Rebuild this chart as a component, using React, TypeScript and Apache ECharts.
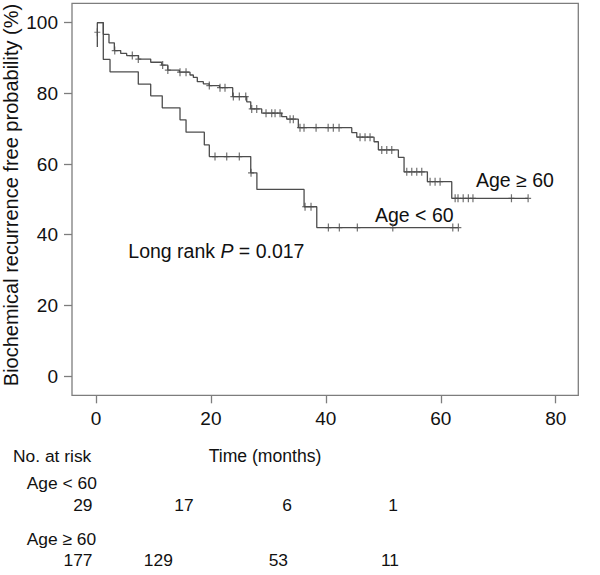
import React, { useEffect, useRef } from "react";
import * as echarts from "echarts";

// Kaplan–Meier step points [time (months), survival (%)]
const ageOldSteps: number[][] = [
  [0.23, 93.1], [0.23, 100], [1.27, 96.7], [2.26, 94.3], [3.19, 92.1], [4.3, 91.3],
  [5.34, 90.7], [7.4, 89.7], [9.52, 88.8], [11.44, 88.0], [12.5, 86.6], [14.5, 86.0],
  [16.36, 85.2], [16.94, 84.5], [17.63, 83.3], [18.68, 82.7], [19.7, 82.2], [21.5, 81.6],
  [23.79, 79.1], [26.23, 77.6], [26.93, 75.6], [28.84, 74.4], [32.32, 73.4], [33.19, 72.7],
  [35.21, 70.3], [44.51, 68.9], [45.38, 67.6], [48.39, 66.3], [49.14, 64.0], [52.62, 61.9],
  [53.61, 57.8], [57.67, 55.0], [61.91, 50.3], [75.2, 50.3],
];
const ageOldCensored: number[][] = [
  [0.23, 97.3], [3.26, 92.1], [6.32, 90.7], [7.36, 89.7], [11.6, 88.0], [12.5, 86.6],
  [14.62, 86.0], [15.67, 86.0], [19.72, 82.2], [21.58, 81.6], [22.45, 81.6], [23.9, 79.1],
  [24.94, 79.1], [26.06, 79.1], [27.1, 75.6], [27.97, 75.6], [29.59, 74.4], [30.58, 74.4],
  [31.16, 74.4], [32.03, 74.4], [33.77, 72.7], [34.34, 72.7], [35.5, 70.3], [36.2, 70.3],
  [38.3, 70.3], [40.4, 70.3], [41.3, 70.3], [42.3, 70.3], [45.95, 67.6], [46.82, 67.6],
  [47.69, 67.6], [49.73, 64.0], [50.6, 64.0], [51.47, 64.0], [54.08, 57.8], [54.95, 57.8],
  [55.82, 57.8], [56.69, 57.8], [58.14, 55.0], [59.01, 55.0], [59.88, 55.0], [62.5, 50.3],
  [63.0, 50.3], [63.9, 50.3], [64.8, 50.3], [65.6, 50.3], [72.3, 50.3], [75.2, 50.3],
];
const ageYoungSteps: number[][] = [
  [0.23, 100], [1.27, 89.6], [2.44, 86.1], [7.36, 82.6], [9.52, 79.3], [11.53, 75.9],
  [14.62, 72.5], [15.67, 69.0], [18.85, 65.4], [19.72, 62.1], [26.93, 57.5], [28.0, 52.8],
  [36.21, 47.9], [38.42, 42.0], [63.06, 42.0],
];
const ageYoungCensored: number[][] = [
  [20.71, 62.1], [22.75, 62.1], [24.94, 62.1], [26.98, 57.5], [36.38, 47.9], [37.42, 47.9],
  [40.44, 42.0], [42.35, 42.0], [45.48, 42.0], [51.65, 42.0], [62.09, 42.0], [63.06, 42.0],
];

// Number at risk table
const riskGroups = ["Age < 60", "Age \u2265 60"];
const riskYoung = ["29", "17", "6", "1"];
const riskOld = ["177", "129", "53", "11"];

const FONT = "'Liberation Sans', Arial, Helvetica, sans-serif";
const LINE = "#4d4d4d";
const FRAME = "#7d7d7d";
const PLUS =
  "path://M2.4,0 L3.6,0 L3.6,3.4 L6,3.4 L6,4.6 L3.6,4.6 L3.6,8 L2.4,8 L2.4,4.6 L0,4.6 L0,3.4 L2.4,3.4 Z";

export default function App() {
  const ref = useRef<HTMLDivElement>(null);

  useEffect(() => {
    if (!ref.current) return;
    const chart = echarts.init(ref.current, undefined, { renderer: "svg" });

    const txt = (x: number, y: number, text: string, size: number, align: string = "left") => ({
      type: "text",
      x,
      y,
      style: {
        text,
        fill: "#111",
        fontSize: size,
        fontFamily: FONT,
        align,
        verticalAlign: "middle",
      },
    });

    const rowCenters1 = [92.5, 184, 287, 393];
    const rowAligns1 = ["right", "center", "center", "center"];
    const rowCenters2 = [92.5, 158.3, 278.3, 390];

    const graphics: any[] = [
      {
        type: "rect",
        shape: { x: 72, y: 3.3, width: 506.3, height: 392 },
        style: { fill: "none", stroke: FRAME, lineWidth: 1.3 },
        silent: true,
        z: 0,
      },
      {
        type: "text",
        x: 11,
        y: 195,
        rotation: Math.PI / 2,
        style: {
          text: "Biochemical recurrence free probability (%)",
          fill: "#111",
          fontSize: 20,
          fontFamily: FONT,
          align: "center",
          verticalAlign: "middle",
        },
      },
      txt(265, 456, "Time (months)", 17.6, "center"),
      txt(13, 455.5, "No. at risk", 17.4),
      txt(26.7, 482.5, riskGroups[0], 17.4),
      txt(26.7, 539, riskGroups[1], 17.4),
      txt(476, 179.5, "Age \u2265 60", 19.5),
      txt(375, 215, "Age < 60", 19.5),
      {
        type: "text",
        x: 128.3,
        y: 251,
        style: {
          text: "Long rank {i|P} = 0.017",
          fill: "#111",
          fontSize: 19.5,
          fontFamily: FONT,
          verticalAlign: "middle",
          rich: {
            i: { fontStyle: "italic", fontSize: 19.5, fontFamily: FONT, fill: "#111" },
          },
        },
      },
    ];
    riskYoung.forEach((v, i) => graphics.push(txt(rowCenters1[i], 505, v, 17.4, rowAligns1[i])));
    riskOld.forEach((v, i) => graphics.push(txt(rowCenters2[i], 560, v, 17.4, rowAligns1[i])));

    const axisCommon = {
      type: "value",
      axisLine: { show: false, onZero: false },
      axisTick: { show: true, inside: false, length: 8, lineStyle: { color: FRAME, width: 1.3 } },
      splitLine: { show: false },
      axisLabel: { color: "#111", fontSize: 19, fontFamily: FONT },
    };

    chart.setOption({
      animation: false,
      grid: { left: 96, top: 22.7, width: 459.7, height: 353.3, containLabel: false },
      xAxis: {
        ...axisCommon,
        position: "bottom",
        min: 0,
        max: 80,
        interval: 20,
        offset: 19.3,
        axisLabel: { ...axisCommon.axisLabel, margin: 14 },
      },
      yAxis: {
        ...axisCommon,
        position: "left",
        min: 0,
        max: 100,
        interval: 20,
        offset: 24,
        axisLabel: { ...axisCommon.axisLabel, margin: 14 },
      },
      graphic: graphics,
      series: [
        {
          name: "Age < 60",
          type: "line",
          step: "end",
          data: ageYoungSteps,
          symbol: "none",
          lineStyle: { color: LINE, width: 1.3 },
          clip: false,
        },
        {
          name: "Age \u2265 60",
          type: "line",
          step: "end",
          data: ageOldSteps,
          symbol: "none",
          lineStyle: { color: LINE, width: 1.3 },
          clip: false,
        },
        {
          name: "Age < 60 censored",
          type: "scatter",
          data: ageYoungCensored,
          symbol: PLUS,
          symbolSize: [6, 8],
          itemStyle: { color: LINE },
          clip: false,
        },
        {
          name: "Age \u2265 60 censored",
          type: "scatter",
          data: ageOldCensored,
          symbol: PLUS,
          symbolSize: [6, 8],
          itemStyle: { color: LINE },
          clip: false,
        },
      ],
    });

    return () => chart.dispose();
  }, []);

  return (
    <div
      ref={ref}
      style={{ position: "absolute", left: 0, top: 0, width: 600, height: 575, background: "#fff" }}
    />
  );
}
